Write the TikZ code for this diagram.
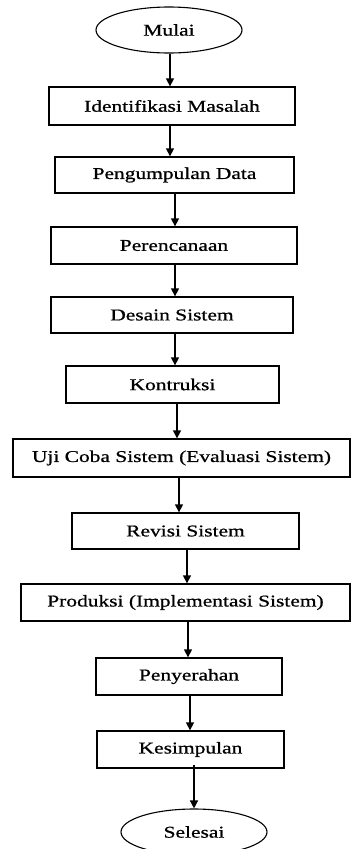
\documentclass[tikz,border=0pt]{standalone}
\usepackage{fontspec}
\setmainfont[FakeStretch=1.3,UprightFeatures={FakeBold=0.8}]{Liberation Serif}
\usetikzlibrary{shapes.geometric,arrows.meta}
\begin{document}
\begin{tikzpicture}[x=1pt,y=-1pt,
  every node/.style={font=\fontsize{16.5}{18}\selectfont, inner sep=0pt},
  box/.style={draw, line width=1.3pt, rectangle, minimum height=#1},
  box/.default=37pt,
  term/.style={draw, line width=1.1pt, ellipse, minimum width=146pt, minimum height=46pt},
  arr/.style={line width=1.3pt, -{Triangle[width=8pt,length=8pt]}}]
\useasboundingbox (0,0) rectangle (351,849);
\fill[white] (0,0) rectangle (351,849);
\node[term] (m) at (169,30) {Mulai};
\node[box=38pt, minimum width=246pt] (i) at (172,106) {Identifikasi Masalah};
\node[box=36pt, minimum width=239pt] (pd) at (174.5,175) {Pengumpulan Data};
\node[box, minimum width=246pt] (pr) at (174,245.5) {Perencanaan};
\node[box=36pt, minimum width=242pt] (ds) at (172,315) {Desain Sistem};
\node[box, minimum width=213pt] (k) at (172.5,384.5) {Kontruksi};
\node[box=38pt, minimum width=337pt] (u) at (181.5,458) {Uji Coba Sistem (Evaluasi Sistem)};
\node[box=36pt, minimum width=227pt] (r) at (185.5,531) {Revisi Sistem};
\node[box, minimum width=329pt] (p) at (185.5,602.5) {Produksi (Implementasi Sistem)};
\node[box, minimum width=186pt] (py) at (189,676.5) {Penyerahan};
\node[box, minimum width=187pt] (ks) at (190.5,749.5) {Kesimpulan};
\node[term] (s) at (194,832) {Selesai};
\draw[arr] ([xshift=1pt]m.south) -- ([xshift=-2pt]i.north);
\draw[arr] ([xshift=-2pt]i.south) -- ([xshift=-4.5pt]pd.north);
\draw[arr] ([xshift=0.5pt]pd.south) -- ([xshift=1pt]pr.north);
\draw[arr] ([xshift=1pt]pr.south) -- ([xshift=3pt]ds.north);
\draw[arr] ([xshift=3pt]ds.south) -- ([xshift=2.5pt]k.north);
\draw[arr] ([xshift=4.5pt]k.south) -- ([xshift=-4.5pt]u.north);
\draw[arr] ([xshift=-2.5pt]u.south) -- ([xshift=-6.5pt]r.north);
\draw[arr] ([xshift=1.5pt]r.south) -- ([xshift=1.5pt]p.north);
\draw[arr] ([xshift=2.5pt]p.south) -- ([xshift=-1pt]py.north);
\draw[arr] ([xshift=1pt]py.south) -- ([xshift=-0.5pt]ks.north);
\draw[arr] ([xshift=3.5pt,yshift=4pt]ks.south) -- (s.north);
\end{tikzpicture}
\end{document}
